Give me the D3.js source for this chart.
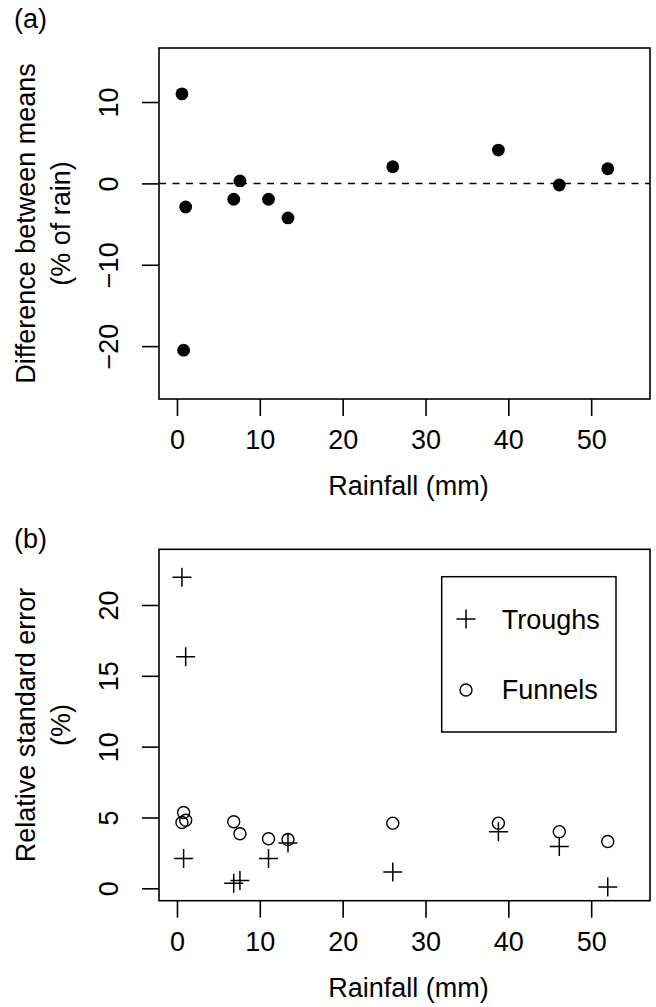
<!DOCTYPE html>
<html>
<head>
<meta charset="utf-8">
<script src="https://cdn.jsdelivr.net/npm/d3@7/dist/d3.min.js"></script>
<style>
  html, body { margin: 0; padding: 0; background: #fff; }
  svg { display: block; }
  text { font-family: "Liberation Sans", Arial, Helvetica, sans-serif; fill: #000; }
</style>
</head>
<body>
<svg id="fig" width="656" height="1007"></svg>
<script>
// Rainfall of each sampled event (mm)
const rainfall   = [0.6, 1.05, 0.8, 6.85, 7.6, 11.05, 13.4, 26.05, 38.8, 46.15, 52.0];
// (a) difference between trough and funnel means, % of rain
const meanDiff   = [11.0, -2.9, -20.5, -1.95, 0.3, -1.95, -4.25, 2.05, 4.1, -0.2, 1.8];
// (b) relative standard error (%) for each gauge type
const troughRSE  = [21.95, 16.35, 2.1, 0.35, 0.55, 2.1, 3.2, 1.15, 4.0, 2.95, 0.1];
const funnelRSE  = [4.65, 4.8, 5.35, 4.7, 3.85, 3.5, 3.45, 4.6, 4.6, 4.0, 3.3];

const xTicks  = [0, 10, 20, 30, 40, 50];
const yTicksA = [-20, -10, 0, 10];
const yTicksB = [0, 5, 10, 15, 20];
const legendLabels = ["Troughs", "Funnels"];

const svg = d3.select("#fig");
const FS = 27;
const box = { left: 159, right: 650 };

const x = d3.scaleLinear().domain([-2.17, 57.1]).range([box.left, box.right]);

function plusPath(cx, cy, h) {
  return `M${cx - h},${cy}H${cx + h}M${cx},${cy - h}V${cy + h}`;
}

function panel(top, bottom, yDomain, yTicks, titleLines, xTitle, tag, tagY) {
  const y = d3.scaleLinear().domain(yDomain).range([bottom, top]);
  const g = svg.append("g");

  // x axis
  const xa = g.append("g")
    .attr("transform", `translate(0,${bottom})`)
    .call(d3.axisBottom(x).tickValues(xTicks).tickSize(17).tickFormat(d3.format("d")));
  xa.select(".domain").remove();
  xa.selectAll(".tick line").attr("stroke", "#000").attr("stroke-width", 1.6);
  xa.selectAll(".tick text")
    .attr("y", 50).attr("dy", null)
    .attr("font-size", FS).attr("font-family", null);

  // y axis with labels parallel to the axis
  const ya = g.append("g")
    .attr("transform", `translate(${box.left},0)`)
    .call(d3.axisLeft(y).tickValues(yTicks).tickSize(17));
  ya.select(".domain").remove();
  ya.selectAll(".tick line").attr("stroke", "#000").attr("stroke-width", 1.6);
  ya.selectAll(".tick text")
    .attr("transform", "rotate(-90)")
    .attr("x", 0).attr("y", -41).attr("dy", null)
    .attr("text-anchor", "middle")
    .attr("font-size", FS).attr("font-family", null);

  // frame
  g.append("rect")
    .attr("x", box.left).attr("y", top)
    .attr("width", box.right - box.left).attr("height", bottom - top)
    .attr("fill", "none").attr("stroke", "#000").attr("stroke-width", 1.6);

  // axis titles
  g.append("text")
    .attr("x", (box.left + box.right) / 2 + 4).attr("y", bottom + 96)
    .attr("text-anchor", "middle").attr("font-size", FS).text(xTitle);

  const cy = (top + bottom) / 2;
  titleLines.forEach((t, i) => {
    g.append("text")
      .attr("transform", `translate(${35 + i * 34.5},${cy}) rotate(-90)`)
      .attr("text-anchor", "middle").attr("font-size", FS).text(t);
  });

  g.append("text")
    .attr("x", 14).attr("y", tagY)
    .attr("font-size", FS).text(tag);

  return { g, y };
}

// ---- (a) difference between means ----
const A = panel(48, 399, [-26.5, 16.64], yTicksA,
  ["Difference between means", "(% of rain)"], "Rainfall (mm)", "(a)", 28);

A.g.append("line")
  .attr("x1", box.left).attr("x2", box.right)
  .attr("y1", A.y(0)).attr("y2", A.y(0))
  .attr("stroke", "#000").attr("stroke-width", 1.5)
  .attr("stroke-dasharray", "7,6.5");

A.g.selectAll("circle.pt")
  .data(rainfall.map((r, i) => ({ r, v: meanDiff[i] })))
  .join("circle")
  .attr("class", "pt")
  .attr("cx", d => x(d.r)).attr("cy", d => A.y(d.v))
  .attr("r", 6.4).attr("fill", "#000");

// ---- (b) relative standard error ----
const B = panel(549.3, 900.7, [-0.875, 23.93], yTicksB,
  ["Relative standard error", "(%)"], "Rainfall (mm)", "(b)", 548);

B.g.selectAll("circle.funnel")
  .data(rainfall.map((r, i) => ({ r, v: funnelRSE[i] })))
  .join("circle")
  .attr("class", "funnel")
  .attr("cx", d => x(d.r)).attr("cy", d => B.y(d.v))
  .attr("r", 6).attr("fill", "none").attr("stroke", "#000").attr("stroke-width", 1.4);

B.g.selectAll("path.trough")
  .data(rainfall.map((r, i) => ({ r, v: troughRSE[i] })))
  .join("path")
  .attr("class", "trough")
  .attr("d", d => plusPath(x(d.r), B.y(d.v), 9.5))
  .attr("fill", "none").attr("stroke", "#000").attr("stroke-width", 1.5);

// legend
const lg = B.g.append("g");
lg.append("rect")
  .attr("x", 441.7).attr("y", 576.7).attr("width", 174.3).attr("height", 155.3)
  .attr("fill", "#fff").attr("stroke", "#000").attr("stroke-width", 1.5);
lg.append("path")
  .attr("d", plusPath(466, 619, 9.5))
  .attr("fill", "none").attr("stroke", "#000").attr("stroke-width", 1.5);
lg.append("circle")
  .attr("cx", 466).attr("cy", 690).attr("r", 6)
  .attr("fill", "none").attr("stroke", "#000").attr("stroke-width", 1.4);
lg.selectAll("text.lab")
  .data(legendLabels)
  .join("text")
  .attr("class", "lab")
  .attr("x", 501.7).attr("y", (d, i) => 628.5 + i * 70.5)
  .attr("font-size", FS).text(d => d);
</script>
</body>
</html>
